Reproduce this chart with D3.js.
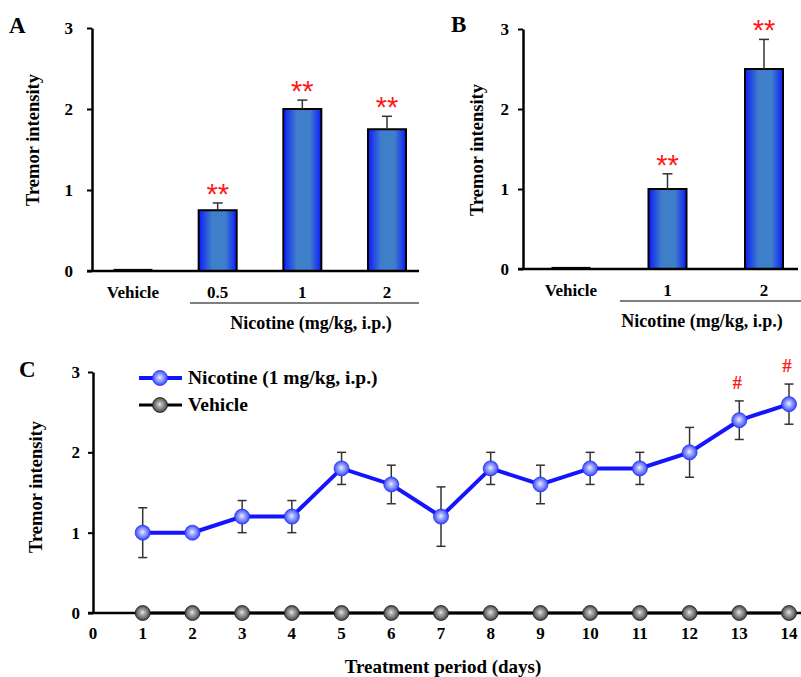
<!DOCTYPE html>
<html><head><meta charset="utf-8">
<script src="https://cdn.jsdelivr.net/npm/d3@7"></script>
<style>body{margin:0;background:#fff}svg{display:block}text{font-family:"Liberation Serif","Times New Roman",serif;font-weight:bold}</style>
</head><body>
<svg id="c" width="801" height="677"></svg>
<script>
// ---- Data ----
const catsA = ["Vehicle", "0.5", "1", "2"];
const meanA = [0.02, 0.75, 2.0, 1.75];
const errA  = [0, 0.09, 0.11, 0.16];
const sigA  = ["", "**", "**", "**"];

const catsB = ["Vehicle", "1", "2"];
const meanB = [0.02, 1.0, 2.5];
const errB  = [0, 0.19, 0.37];
const sigB  = ["", "**", "**"];

const yTicks = [0, 1, 2, 3];
const days = [1,2,3,4,5,6,7,8,9,10,11,12,13,14];
const dayTicks = [0,1,2,3,4,5,6,7,8,9,10,11,12,13,14];
const nicotine = [1.0,1.0,1.2,1.2,1.8,1.6,1.2,1.8,1.6,1.8,1.8,2.0,2.4,2.6];
const nicErr   = [0.31,0,0.2,0.2,0.2,0.24,0.37,0.2,0.24,0.2,0.2,0.31,0.24,0.25];
const vehicle  = [0,0,0,0,0,0,0,0,0,0,0,0,0,0];
const sigC     = ["","","","","","","","","","","","","#","#"];
const legendLabels = ["Nicotine (1 mg/kg, i.p.)", "Vehicle"];
const groupLabel = "Nicotine (mg/kg, i.p.)";

const svg = d3.select("#c");
const defs = svg.append("defs");
const bg = defs.append("linearGradient").attr("id","barGrad").attr("x1","0%").attr("x2","100%").attr("y1","0%").attr("y2","0%");
[["0%","#0a1aff"],["12%","#1f3fe8"],["35%","#3f7fca"],["70%","#3f7fca"],["90%","#1f3fe8"],["100%","#0a1aff"]].forEach(s=>bg.append("stop").attr("offset",s[0]).attr("stop-color",s[1]));
const rb = defs.append("radialGradient").attr("id","blueBall").attr("cx","50%").attr("cy","50%").attr("r","55%").attr("fx","48%").attr("fy","45%");
[["0%","#ffffff"],["15%","#c8ceff"],["55%","#7d8aff"],["100%","#2a38f0"]].forEach(s=>rb.append("stop").attr("offset",s[0]).attr("stop-color",s[1]));
const rg = defs.append("radialGradient").attr("id","grayBall").attr("cx","50%").attr("cy","50%").attr("r","55%").attr("fx","48%").attr("fy","45%");
[["0%","#f4f4f4"],["20%","#b8b8b8"],["60%","#7a7a7a"],["100%","#2e2e2e"]].forEach(s=>rg.append("stop").attr("offset",s[0]).attr("stop-color",s[1]));

function yAxis(g, y, pad){
  g.call(d3.axisLeft(y).tickValues(yTicks).tickFormat(d3.format("d")).tickSize(5).tickSizeOuter(0).tickPadding(pad));
  g.select(".domain").attr("stroke","#000").attr("stroke-width",2.5);
  g.selectAll(".tick line").attr("stroke","#000").attr("stroke-width",2);
  g.selectAll(".tick text").attr("font-size",17).attr("fill","#000").style("font-family","Liberation Serif").style("font-weight","bold");
}

function barPanel(opt){
  const {cats, mean, err, sig, xr, yr, axisX, baseEnd, lineStart, lineEnd, labelX, ylabX, ylabY, pad, letter, letterX, letterY} = opt;
  const x = d3.scalePoint().domain(cats).range(xr);
  const y = d3.scaleLinear().domain([0,3]).range(yr);
  const bw = 38;
  const g = svg.append("g");
  g.selectAll("rect.bar").data(cats).join("rect")
    .attr("x", d=>x(d)-bw/2).attr("width", bw)
    .attr("y", (d,i)=>y(mean[i])).attr("height",(d,i)=>y(0)-y(mean[i]))
    .attr("fill",(d,i)=>i===0?"#000":"url(#barGrad)")
    .attr("stroke","#000").attr("stroke-width",(d,i)=>i===0?1:2);
  cats.forEach((c,i)=>{
    if(!err[i]) return;
    g.append("line").attr("x1",x(c)).attr("x2",x(c)).attr("y1",y(mean[i])).attr("y2",y(mean[i]+err[i])).attr("stroke","#333").attr("stroke-width",1.5);
    g.append("line").attr("x1",x(c)-5).attr("x2",x(c)+5).attr("y1",y(mean[i]+err[i])).attr("y2",y(mean[i]+err[i])).attr("stroke","#333").attr("stroke-width",1.5);
    g.append("text").attr("x",x(c)).attr("y",y(mean[i]+err[i])+1).attr("text-anchor","middle")
      .attr("fill","#ff1a1a").attr("font-size",29).style("font-weight","normal").style("font-family","Liberation Sans").text(sig[i]);
  });
  const ag = g.append("g").attr("transform",`translate(${axisX},0)`);
  yAxis(ag, y, pad);
  g.append("line").attr("x1",axisX-5).attr("x2",baseEnd).attr("y1",y(0)).attr("y2",y(0)).attr("stroke","#000").attr("stroke-width",2.5);
  g.selectAll("text.cat").data(cats).join("text").attr("class","cat")
    .attr("x",d=>x(d)).attr("y",y(0)+27).attr("text-anchor","middle").attr("font-size",17).text(d=>d);
  g.append("line").attr("x1",lineStart).attr("x2",lineEnd).attr("y1",y(0)+32).attr("y2",y(0)+32).attr("stroke","#000").attr("stroke-width",1.2);
  g.append("text").attr("x",labelX).attr("y",y(0)+58).attr("text-anchor","middle").attr("font-size",18).text(groupLabel);
  g.append("text").attr("transform",`translate(${ylabX},${ylabY}) rotate(-90)`).attr("text-anchor","middle").attr("font-size",18.5).text("Tremor intensity");
  g.append("text").attr("x",letterX).attr("y",letterY).attr("font-size",23).text(letter);
}

barPanel({cats:catsA, mean:meanA, err:errA, sig:sigA, xr:[133,387], yr:[271,28], axisX:92, baseEnd:419,
  lineStart:190, lineEnd:419, labelX:311, ylabX:39, ylabY:140, pad:14, letter:"A", letterX:9, letterY:33});
barPanel({cats:catsB, mean:meanB, err:errB, sig:sigB, xr:[571,764], yr:[269,29], axisX:523, baseEnd:798,
  lineStart:620, lineEnd:801, labelX:702, ylabX:483, ylabY:150, pad:9, letter:"B", letterX:451, letterY:32});

// ---- Panel C ----
const xC = d3.scaleLinear().domain([0,14]).range([93,789]);
const yC = d3.scaleLinear().domain([0,3]).range([613,372]);
const gC = svg.append("g");
const agC = gC.append("g").attr("transform","translate(93,0)");
yAxis(agC, yC, 8);
gC.append("line").attr("x1",88).attr("x2",801).attr("y1",yC(0)).attr("y2",yC(0)).attr("stroke","#000").attr("stroke-width",2.5);
gC.selectAll("text.dt").data(dayTicks).join("text").attr("class","dt")
  .attr("x",d=>xC(d)).attr("y",yC(0)+26).attr("text-anchor","middle").attr("font-size",17).text(d=>d);
gC.append("text").attr("x",443).attr("y",673).attr("text-anchor","middle").attr("font-size",19).text("Treatment period (days)");
gC.append("text").attr("transform",`translate(42,487) rotate(-90)`).attr("text-anchor","middle").attr("font-size",18.5).text("Tremor intensity");
gC.append("text").attr("x",19).attr("y",377).attr("font-size",23).text("C");

days.forEach((d,i)=>{
  if(!nicErr[i]) return;
  const x0 = xC(d), t = yC(nicotine[i]+nicErr[i]), b = yC(nicotine[i]-nicErr[i]);
  gC.append("line").attr("x1",x0).attr("x2",x0).attr("y1",t).attr("y2",b).attr("stroke","#333").attr("stroke-width",1.5);
  [t,b].forEach(yy=>gC.append("line").attr("x1",x0-4.5).attr("x2",x0+4.5).attr("y1",yy).attr("y2",yy).attr("stroke","#333").attr("stroke-width",1.5));
  if(sigC[i]) gC.append("text").attr("x",x0-2).attr("y",t-12).attr("text-anchor","middle").attr("fill","#ff1a1a").attr("font-size",19).text(sigC[i]);
});
const line = d3.line().x((v,i)=>xC(days[i])).y(v=>yC(v));
gC.append("path").datum(vehicle).attr("d",line).attr("fill","none").attr("stroke","#000").attr("stroke-width",3);
gC.append("path").datum(nicotine).attr("d",line).attr("fill","none").attr("stroke","#1414ff").attr("stroke-width",4);
gC.selectAll("circle.v").data(vehicle).join("circle").attr("class","v")
  .attr("cx",(v,i)=>xC(days[i])).attr("cy",v=>yC(v)).attr("r",7.5).attr("fill","url(#grayBall)").attr("stroke","#222").attr("stroke-width",0.8);
gC.selectAll("circle.n").data(nicotine).join("circle").attr("class","n")
  .attr("cx",(v,i)=>xC(days[i])).attr("cy",v=>yC(v)).attr("r",7.5).attr("fill","url(#blueBall)").attr("stroke","#2030ff").attr("stroke-width",0.8);

const legY = [378, 405];
const legStroke = ["#1414ff","#000"], legFill = ["url(#blueBall)","url(#grayBall)"], legW=[4,3];
legendLabels.forEach((lab,i)=>{
  gC.append("line").attr("x1",139).attr("x2",182).attr("y1",legY[i]).attr("y2",legY[i]).attr("stroke",legStroke[i]).attr("stroke-width",legW[i]);
  gC.append("circle").attr("cx",160).attr("cy",legY[i]).attr("r",7.5).attr("fill",legFill[i]).attr("stroke",i?"#222":"#2030ff").attr("stroke-width",0.8);
  gC.append("text").attr("x",188).attr("y",legY[i]+6).attr("font-size",19.5).text(lab);
});
</script>
</body></html>
